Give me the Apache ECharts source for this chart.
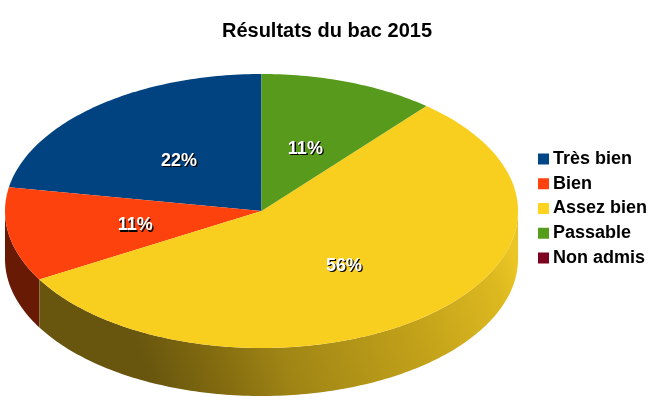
<!DOCTYPE html>
<html>
<head>
<meta charset="utf-8">
<style>html,body{margin:0;padding:0;background:#fff}#c{width:653px;height:405px}</style>
<script src="https://cdn.jsdelivr.net/npm/echarts@6/dist/echarts.min.js"></script>
</head>
<body>
<div id="c"></div>
<script>
var chartTitle = 'Résultats du bac 2015';
var categories = ['Très bien', 'Bien', 'Assez bien', 'Passable', 'Non admis'];
var values = [2, 1, 5, 1, 0];
var colors = ['#004586', '#ff420e', '#ffd320', '#579d1c', '#7e0021'];
var faceColors = ['#004380', '#fd420e', '#f9cf1f', '#579a1c', '#7e0021'];
var wallColors = ['#00203f', '#691a05', '#68560f', '#2a4c0d', '#3f0010'];

var CX = 261.5, CY = 211, RX = 256.5, RY = 137, DEPTH = 48;
var total = values.reduce(function (a, b) { return a + b; }, 0);
var FONT = '"Liberation Sans", Arial, sans-serif';

function pt(deg, dy) {
  var t = deg * Math.PI / 180;
  return [CX - Math.sin(t) * RX, CY - Math.cos(t) * RY + (dy || 0)];
}
function arc(a, b, dy) {
  var n = Math.max(2, Math.ceil(Math.abs(b - a))), out = [];
  for (var i = 0; i <= n; i++) out.push(pt(a + (b - a) * i / n, dy));
  return out;
}
var wallGradient = {
  type: 'linear', global: true, x: 150, y: 380, x2: 510, y2: 250,
  colorStops: [
    { offset: 0, color: '#68560f' },
    { offset: 0.16, color: '#80690f' },
    { offset: 0.35, color: '#a08515' },
    { offset: 0.72, color: '#c5a41a' },
    { offset: 0.93, color: '#dcb820' },
    { offset: 1, color: '#eac524' }
  ]
};

function makeRender(idx) {
  return function () {
    var start = 0;
    for (var i = 0; i < idx; i++) start += values[i] / total * 360;
    var end = start + values[idx] / total * 360;
    if (values[idx] <= 0) return { type: 'group', children: [] };
    var children = [];
    var wa = Math.max(start, 90), wb = Math.min(end, 270);
    if (wb > wa) {
      var wall = arc(wa, wb, 0).concat(arc(wb, wa, DEPTH));
      children.push({
        type: 'polygon', shape: { points: wall }, z2: 1,
        style: { fill: idx === 2 ? wallGradient : wallColors[idx] }
      });
    }
    children.push({
      type: 'polygon', shape: { points: [[CX, CY]].concat(arc(start, end, 0)) }, z2: 2,
      style: { fill: faceColors[idx] }
    });
    var mid = pt((start + end) / 2);
    var pct = Math.round(values[idx] / total * 100) + '%';
    var lx = CX + (mid[0] - CX) * 0.5, ly = CY + (mid[1] - CY) * 0.5 + 2.5;
    children.push({
      type: 'text', z2: 3, x: lx + 1.3, y: ly + 1.3,
      style: { text: pct, fill: '#000', font: 'bold 18px ' + FONT, align: 'center', verticalAlign: 'middle' }
    });
    children.push({
      type: 'text', z2: 4, x: lx, y: ly,
      style: { text: pct, fill: '#fff', font: 'bold 18px ' + FONT, align: 'center', verticalAlign: 'middle' }
    });
    return { type: 'group', children: children };
  };
}

var chart = echarts.init(document.getElementById('c'), null, { renderer: 'canvas', width: 653, height: 405 });
chart.setOption({
  animation: false,
  backgroundColor: '#fff',
  title: {
    text: chartTitle, left: 322, top: 16, textAlign: 'center',
    textStyle: { fontFamily: FONT, fontWeight: 'bold', fontSize: 20, color: '#000' }
  },
  legend: {
    data: categories, left: 533, top: 144, orient: 'vertical', icon: 'rect',
    itemWidth: 11, itemHeight: 11, itemGap: 4.75, selectedMode: false,
    textStyle: { fontFamily: FONT, fontWeight: 'bold', fontSize: 18, color: '#000', padding: [0, 0, 0, -1], lineHeight: 20 }
  },
  series: categories.map(function (name, i) {
    return {
      type: 'custom', name: name, coordinateSystem: 'none', silent: true,
      itemStyle: { color: colors[i] },
      data: [[values[i]]],
      renderItem: makeRender(i)
    };
  })
});
</script>
</body>
</html>
